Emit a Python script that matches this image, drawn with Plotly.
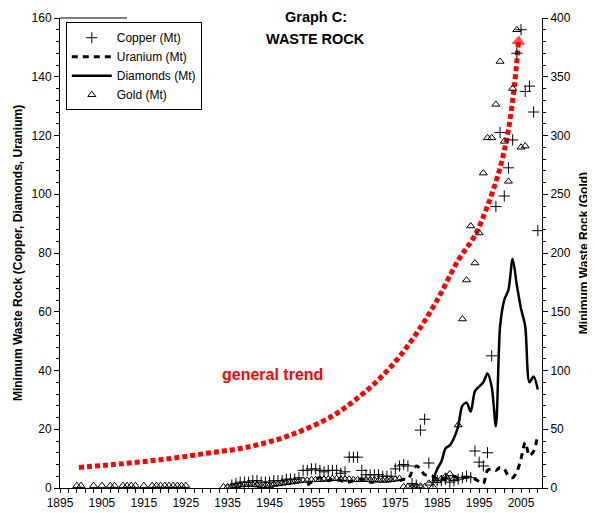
import plotly.graph_objects as go

# ---------------- data ----------------
copper_years = list(range(1936, 2010))
copper_mt = [1.0, 1.5, 2.0, 2.0, 2.0, 2.5, 2.5, 2.0, 2.0, 2.0,
             2.5, 2.5, 2.5, 3.0, 3.0, 3.0, 3.5, 6.0, 6.0, 6.5,
             6.5, 6.0, 5.5, 6.0, 6.0, 6.0, 5.0, 5.5, 10.5, 10.5,
             10.5, 6.0, 4.5, 4.5, 4.5, 4.5, 4.0, 4.0, 4.0, 6.5,
             7.5, 8.0, 7.5, 1.5, 1.0, 19.7, 23.4, 8.5, 2.0, 2.5,
             2.5, 3.0, 2.0, 2.5, 3.0, 3.5, 4.0, 3.5, 12.6, 8.8,
             7.5, 12.0, 45.0, 95.8, 121.0, 99.4, 109.0, 118.5, 148.0, 156.0,
             135.0, 136.8, 128.0, 87.6]

uranium_years = [1954, 1955, 1956, 1957, 1958, 1959, 1960, 1961, 1962, 1963,
                 1964, 1965, 1966, 1967, 1968, 1969, 1970, 1971, 1972,
                 1976, 1977, 1978, 1979, 1980, 1981, 1982, 1983, 1984, 1985,
                 1986, 1987, 1988, 1989, 1990, 1991, 1992, 1993, 1994, 1995,
                 1996, 1997, 1998, 1999, 2000, 2001, 2002, 2003, 2004, 2005,
                 2006, 2007, 2008, 2009]
uranium_mt = [1.0, 2.0, 3.0, 3.5, 3.0, 2.5, 3.0, 3.0, 2.5, 2.0,
              2.0, 2.5, 3.0, 3.0, 2.5, 2.0, 2.0, 1.5, None,
              2.5, 3.0, 3.0, 5.5, 7.5, 6.5, 4.5, 4.4, 4.0, 3.0,
              3.0, 3.5, 4.0, 4.0, 3.5, 3.5, 3.7, 3.5, 3.0, 2.2,
              1.5, 6.0, 6.5, 6.0, 7.0, 6.5, 4.0, 3.5, 5.5, 10.0,
              15.5, 11.0, 12.5, 18.0]

diamond_years = list(range(1984, 2010))
diamond_mt = [2.7, 6.5, 9.0, 13.5, 14.5, 17.0, 21.0, 28.0, 29.0, 26.0,
              33.0, 34.5, 36.0, 39.0, 34.5, 21.0, 55.0, 64.0, 67.5, 78.0,
              69.0, 61.0, 55.0, 36.0, 38.0, 33.5]

gold_years = [1899, 1900, 1903, 1905, 1907, 1908, 1910, 1911, 1912, 1913,
              1915, 1917, 1918, 1919, 1920, 1921, 1922, 1923, 1924, 1925] + list(range(1934, 2007))
gold_mt = [2, 2, 2, 2, 2, 2, 2, 2, 2, 2,
           2, 2, 2, 2, 2, 2, 2, 2, 2, 2,
           # 1934 - 1943
           1.0, 1.0, 1.5, 2.0, 2.5, 3.0, 3.0, 3.0, 2.5, 2.0,
           # 1944 - 1953
           2.0, 2.0, 3.0, 3.5, 4.0, 4.5, 5.0, 5.5, 6.0, 6.5,
           # 1954 - 1963
           6.5, 7.0, 7.0, 7.0, 7.5, 7.5, 8.0, 8.0, 7.5, 7.5,
           # 1964 - 1973
           7.5, 7.0, 7.0, 7.0, 7.0, 7.0, 7.0, 6.5, 6.5, 6.5,
           # 1974 - 1983
           7.0, 7.5, 8.0, 1.0, 1.0, 1.0, 1.5, 1.5, 1.0, 4.0,
           # 1984 - 1993
           1.0, 6.0, 8.0, 10.0, 12.0, 8.0, 53.6, 143.8, 177.0, 223.0,
           # 1994 - 2003
           191.5, 217.0, 268.0, 298.0, 298.0, 326.5, 363.0, 295.0, 261.0, 340.0,
           # 2004 - 2006
           390.0, 290.0, 291.0]

trend_years = [1899.5, 1910, 1920, 1930, 1940, 1950, 1960, 1965, 1970, 1975,
               1980, 1985, 1990, 1994, 1997, 2000, 2002, 2003.5, 2004.4]
trend_mt = [7.0, 8.3, 9.8, 11.8, 14.0, 18.0, 24.5, 29.5, 35.5, 43.0,
            52.5, 64.0, 77.5, 86.0, 96.0, 109.0, 122.0, 138.0, 152.0]

FONT = "Liberation Sans, Arial, sans-serif"

fig = go.Figure()

# red general trend (dotted) with an arrow head at its last point
fig.add_trace(go.Scatter(
    x=trend_years, y=trend_mt, mode="lines+markers", showlegend=False,
    hoverinfo="skip",
    line=dict(color="#FF0000", width=5, dash="5px,3px", shape="spline", smoothing=1),
    marker=dict(symbol="triangle-up", angleref="previous",
                size=[0] * (len(trend_years) - 1) + [12],
                color="#FF0000", line=dict(width=0)),
))

fig.add_trace(go.Scatter(
    x=copper_years, y=copper_mt, mode="markers", name="Copper (Mt)",
    marker=dict(symbol="cross-thin-open", size=8, color="black",
                line=dict(width=1, color="black")),
))
fig.add_trace(go.Scatter(
    x=uranium_years, y=uranium_mt, mode="lines", name="Uranium (Mt)",
    connectgaps=False,
    line=dict(color="black", width=3, dash="6px,5px", shape="spline", smoothing=0.8),
))
fig.add_trace(go.Scatter(
    x=diamond_years, y=diamond_mt, mode="lines", name="Diamonds (Mt)",
    line=dict(color="black", width=2.5, shape="spline", smoothing=0.8),
))
fig.add_trace(go.Scatter(
    x=gold_years, y=gold_mt, mode="markers", name="Gold (Mt)", yaxis="y2",
    marker=dict(symbol="triangle-up-open", size=7, color="black",
                line=dict(width=1, color="black")),
))

axis_common = dict(showgrid=False, zeroline=False, showline=True,
                   linecolor="black", linewidth=1, ticks="outside",
                   tickcolor="black", tickfont=dict(family=FONT, size=12, color="black"),
                   automargin=False)

# the page body adds an 8px offset, so the figure is sized to fit the window
fig.update_layout(
    width=587, height=505,
    margin=dict(l=52, r=53, t=10, b=25),
    paper_bgcolor="white", plot_bgcolor="white",
    font=dict(family=FONT, size=12, color="black"),
    xaxis=dict(range=[1895, 2010], tick0=1895, dtick=10, ticklen=4,
               minor=dict(tick0=1895, dtick=2, ticks="outside", ticklen=4, tickcolor="black"),
               **axis_common),
    yaxis=dict(range=[0, 160], dtick=20, ticklen=5,
               minor=dict(dtick=4, ticks="outside", ticklen=3, tickcolor="black"),
               title=dict(text="<b>Minimum Waste Rock (Copper, Diamonds, Uranium)</b>",
                          font=dict(family=FONT, size=12), standoff=6),
               **axis_common),
    yaxis2=dict(range=[0, 400], dtick=50, ticklen=5, overlaying="y", side="right",
                minor=dict(dtick=10, ticks="outside", ticklen=3, tickcolor="black"),
                title=dict(text="<b>Minimum Waste Rock (Gold)</b>",
                           font=dict(family=FONT, size=12), standoff=9),
                **axis_common),
    legend=dict(x=0.012, y=0.991, xanchor="left", yanchor="top",
                bordercolor="black", borderwidth=1, bgcolor="white",
                font=dict(family=FONT, size=12), itemwidth=40,
                tracegroupgap=0),
    showlegend=True,
)

# chart title and label
fig.add_annotation(text="<b>Graph C:</b>", xref="paper", yref="paper",
                   x=0.531, y=1.0021, showarrow=False, yanchor="middle",
                   font=dict(family=FONT, size=14.5, color="black"))
fig.add_annotation(text="<b>WASTE ROCK</b>", xref="paper", yref="paper",
                   x=0.531, y=0.9543, showarrow=False, yanchor="middle",
                   font=dict(family=FONT, size=14.5, color="black"))
fig.add_annotation(text="<b>general trend</b>", xref="x", yref="y",
                   x=1945.8, y=38.5, showarrow=False,
                   font=dict(family=FONT, size=16, color="#FF0000"))

# short line at the top-left of the plot frame
fig.add_shape(type="line", xref="paper", yref="paper", x0=0, x1=0.139, y0=1, y1=1,
              line=dict(color="black", width=1))

fig.write_html("out.html")
